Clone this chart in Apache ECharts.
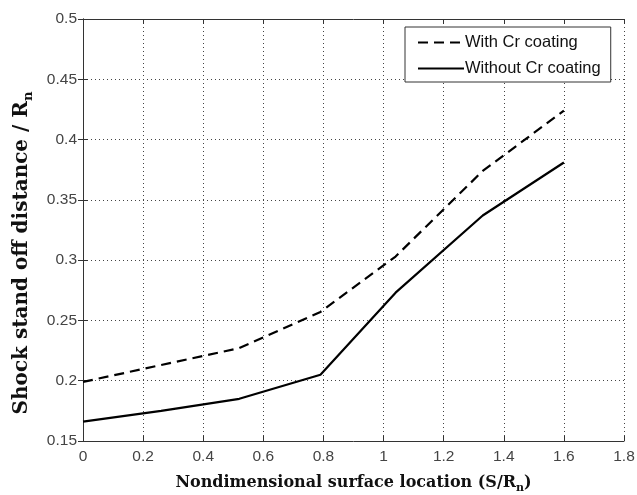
<!DOCTYPE html>
<html>
<head>
<meta charset="utf-8">
<script src="https://cdn.jsdelivr.net/npm/echarts@6/dist/echarts.min.js"></script>
<style>html,body{margin:0;padding:0;background:#fff;}#c{width:637px;height:495px;}</style>
</head>
<body>
<div id="c"></div>
<script>
var xWith = [0, 0.26, 0.52, 0.79, 1.04, 1.33, 1.6];
var yWith = [0.199, 0.213, 0.227, 0.257, 0.303, 0.374, 0.424];
var xWithout = [0, 0.26, 0.52, 0.79, 1.04, 1.33, 1.6];
var yWithout = [0.166, 0.175, 0.185, 0.205, 0.273, 0.337, 0.381];
var seriesNames = ['With Cr coating', 'Without Cr coating'];
var xTicks = [0, 0.2, 0.4, 0.6, 0.8, 1, 1.2, 1.4, 1.6, 1.8];
var yTicks = [0.15, 0.2, 0.25, 0.3, 0.35, 0.4, 0.45, 0.5];

function pairs(xs, ys) { return xs.map(function (x, i) { return [x, ys[i]]; }); }

var chart = echarts.init(document.getElementById('c'), null, {renderer: 'canvas'});
var tickFont = {fontFamily: 'Liberation Sans, Arial, sans-serif', fontSize: 15.5, color: '#444'};
var gridLine = {show: true, lineStyle: {color: '#444', type: [1, 3], width: 1}};
var axisLine = {show: true, lineStyle: {color: '#333', width: 1}};
var axisTick = {show: true, inside: true, length: 5, lineStyle: {color: '#333'}};

chart.setOption({
  animation: false,
  backgroundColor: '#fff',
  grid: {left: 83, top: 19, right: 13, bottom: 54, containLabel: false, outerBoundsMode: 'none'},
  legend: {
    data: seriesNames.map(function (n) { return {name: n}; }),
    orient: 'vertical', left: 405, top: 27,
    itemWidth: 46, itemHeight: 14, itemGap: 9,
    padding: [7, 10, 5, 12],
    borderColor: '#333', borderWidth: 1, backgroundColor: '#fff',
    itemStyle: {opacity: 0},
    textStyle: {fontFamily: 'Liberation Sans, Arial, sans-serif', fontSize: 16.5, color: '#111', padding: [0, 0, 0, -4]}
  },
  xAxis: [{
    type: 'value', min: 0, max: 1.8, interval: 0.2,
    axisLine: axisLine, axisTick: axisTick, splitLine: gridLine,
    axisLabel: Object.assign({margin: 8, formatter: function (v) { return String(+v.toFixed(1)); }}, tickFont),
    name: '{t|Nondimensional surface location (S/R}{s|n}{t|)}',
    nameLocation: 'middle', nameGap: 30,
    nameTextStyle: {rich: {
      t: {fontFamily: 'DejaVu Serif, serif', fontWeight: 'bold', fontSize: 16, color: '#111'},
      s: {fontFamily: 'DejaVu Serif, serif', fontWeight: 'bold', fontSize: 11, color: '#111', verticalAlign: 'bottom', padding: [12, 0, 0, 0]}
    }}
  }, {
    type: 'value', position: 'top', min: 0, max: 1.8, interval: 0.2,
    axisLine: axisLine, axisTick: axisTick, splitLine: {show: false}, axisLabel: {show: false}
  }],
  yAxis: [{
    type: 'value', min: 0.15, max: 0.5, interval: 0.05,
    axisLine: axisLine, axisTick: axisTick, splitLine: gridLine,
    axisLabel: Object.assign({margin: 6, formatter: function (v) { return String(+v.toFixed(2)); }}, tickFont),
    name: '{t|Shock stand off distance / R}{s|n}',
    nameLocation: 'middle', nameGap: 48, nameRotate: 90,
    nameTextStyle: {padding: [0, 46, 0, 0], rich: {
      t: {fontFamily: 'DejaVu Serif, serif', fontWeight: 'bold', fontSize: 20, color: '#111'},
      s: {fontFamily: 'DejaVu Serif, serif', fontWeight: 'bold', fontSize: 13, color: '#111', verticalAlign: 'bottom', padding: [14, 0, 0, 0]}
    }}
  }, {
    type: 'value', position: 'right', min: 0.15, max: 0.5, interval: 0.05,
    axisLine: axisLine, axisTick: axisTick, splitLine: {show: false}, axisLabel: {show: false}
  }],
  series: [{
    name: seriesNames[0], type: 'line', showSymbol: false, symbol: 'none',
    data: pairs(xWith, yWith),
    lineStyle: {color: '#000', width: 2.2, type: [10, 6]},
    itemStyle: {color: '#000'}
  }, {
    name: seriesNames[1], type: 'line', showSymbol: false, symbol: 'none',
    data: pairs(xWithout, yWithout),
    lineStyle: {color: '#000', width: 2.2, type: 'solid'},
    itemStyle: {color: '#000'}
  }]
});
</script>
</body>
</html>
